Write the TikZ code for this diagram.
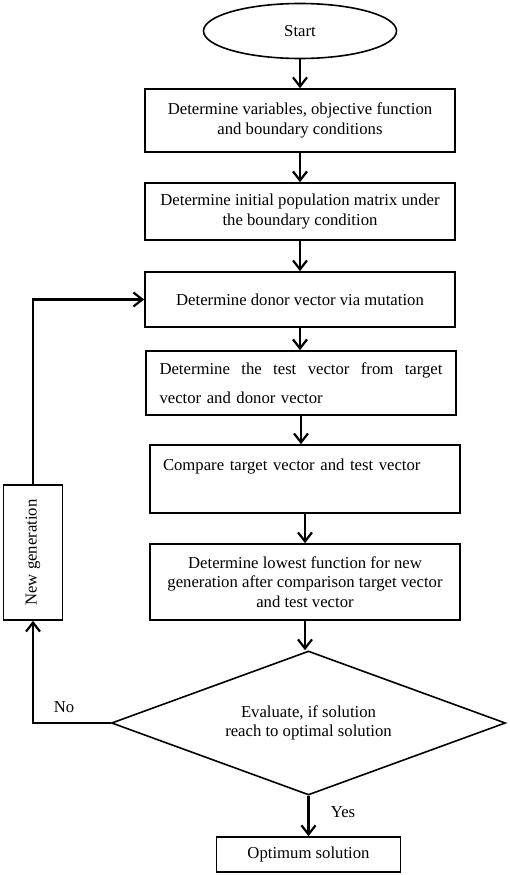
\documentclass[tikz,border=0pt]{standalone}
\usepackage{fontspec}
\setmainfont{Liberation Serif}
\usetikzlibrary{arrows.meta,shapes.geometric,positioning}

\begin{document}
\begin{tikzpicture}[x=1pt, y=1pt, font=\fontsize{16.7}{19.5}\selectfont,
  box/.style={draw, line width=1.6pt, minimum width=310pt, align=center},
  term/.style={draw, ellipse, line width=1.6pt, minimum width=193pt, minimum height=55pt},
  decision/.style={draw, diamond, aspect=2.74, line width=1.6pt, minimum width=394pt, minimum height=144pt, align=center, inner sep=0pt},
  flow/.style={->, line width=2.2pt},
  >={Straight Barb[length=9pt,width=14pt]}]
\useasboundingbox (0,0) rectangle (510,-875);

\node[term] (start) at (300,-31) {Start};
\node[box, minimum height=63pt] (vars) [below of = start, node distance=89.5pt] {Determine variables, objective function\\and boundary conditions};
\node[box, minimum height=57pt] (init) [below of = vars, node distance=91pt] {Determine initial population matrix under\\the boundary condition};
\node[box, minimum height=55pt] (donor) [below of = init, node distance=88pt] {Determine donor vector via mutation};
\node[box, minimum height=64pt, align=left, text width=283pt] (trial) [below of = donor, node distance=83.5pt, xshift=1pt] {\makebox[283pt]{Determine\hfill the\hfill test\hfill vector\hfill from\hfill target}\\[9.5pt]vector and donor vector};
\node[box, minimum height=68pt, align=left, text width=284pt] (comp) [below of = trial, node distance=96pt, xshift=4pt] {Compare target vector and test vector\\[10pt]\mbox{}};
\node[box, minimum height=76pt] (lowest) [below of = comp, node distance=103pt] {Determine lowest function for new\\generation after comparison target vector\\and test vector};
\node[decision] (eval) [below of = lowest, node distance=141pt, xshift=3.5pt] {Evaluate, if solution\\reach to optimal solution};
\node[draw, line width=1.6pt, minimum width=184pt, minimum height=35pt] (opt) [below of = eval, node distance=131.5pt] {Optimum solution};
\node[draw, line width=1.6pt, rotate=90, minimum width=135pt, minimum height=59pt] (newgen) at (33,-552.5) {New generation};

\path[flow] (start.south) edge (start.south |- vars.north)
        (vars.south) edge (vars.south |- init.north)
        (init.south) edge (init.south |- donor.north)
        (donor.south) edge (donor.south |- trial.north)
        (trial.south) edge (trial.south |- comp.north)
        (comp.south) edge (comp.south |- lowest.north)
        (lowest.south) edge (lowest.south |- eval.north)
        (eval.south) edge node[right=18pt, pos=0.4] {Yes} (eval.south |- opt.north);

\draw[flow] (eval.west) -| node[above=6pt, pos=0.3] {No} (newgen.west);
\draw[flow] (newgen.east) |- (donor.west);
\end{tikzpicture}
\end{document}
